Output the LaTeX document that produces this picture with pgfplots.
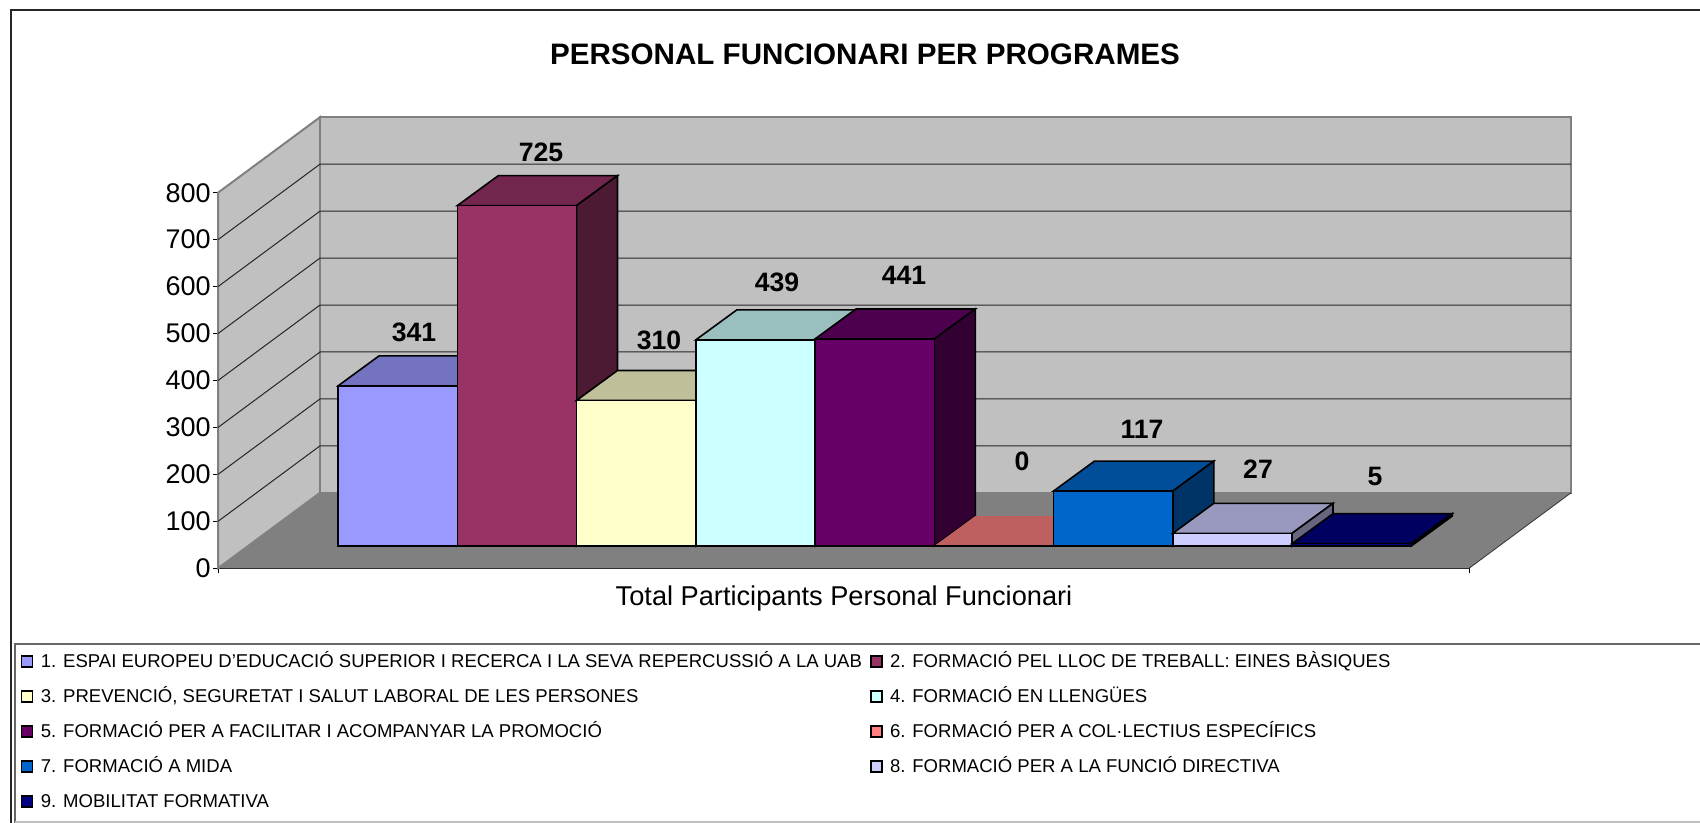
\documentclass[border=0pt]{standalone}
\usepackage{fontspec}
\setmainfont{Liberation Sans}
\usepackage{pgfplots}
\pgfplotsset{compat=1.18}
\definecolor{cA}{HTML}{9999FF}\definecolor{cAt}{HTML}{7373BF}\definecolor{cAs}{HTML}{4D4D80}
\definecolor{cB}{HTML}{993366}\definecolor{cBt}{HTML}{73264D}\definecolor{cBs}{HTML}{4D1A33}
\definecolor{cC}{HTML}{FFFFCC}\definecolor{cCt}{HTML}{BFBF99}\definecolor{cCs}{HTML}{808066}
\definecolor{cD}{HTML}{CCFFFF}\definecolor{cDt}{HTML}{99BFBF}\definecolor{cDs}{HTML}{668080}
\definecolor{cE}{HTML}{660066}\definecolor{cEt}{HTML}{4D004D}\definecolor{cEs}{HTML}{330033}
\definecolor{cF}{HTML}{FF8080}\definecolor{cFt}{HTML}{BF6060}\definecolor{cFs}{HTML}{804040}
\definecolor{cG}{HTML}{0066CC}\definecolor{cGt}{HTML}{004D99}\definecolor{cGs}{HTML}{003366}
\definecolor{cH}{HTML}{CCCCFF}\definecolor{cHt}{HTML}{9999BF}\definecolor{cHs}{HTML}{666680}
\definecolor{cI}{HTML}{000080}\definecolor{cIt}{HTML}{000060}\definecolor{cIs}{HTML}{000040}
\definecolor{wall}{HTML}{C0C0C0}\definecolor{floorc}{HTML}{808080}
\pgfplotsset{
  face/.style={forget plot,draw=black,line width=0.8pt,line join=miter,yshift=11.15pt,mark=none},
  wallp/.style={forget plot,draw=floorc,line width=1pt,line join=miter,mark=none},
  gridl/.style={forget plot,draw=black!85,line width=0.5pt,mark=none},
  sw/.style 2 args={legend image code/.code={\draw[fill=#1,draw=black,line width=0.7pt](0pt,-2.2pt) rectangle (5.5pt,3.3pt);\path[draw=none,fill=none] (0pt,0pt)--(8.2pt,0pt);}},
}
\begin{document}
\begin{tikzpicture}[x=0.5pt,y=-0.5pt]
\begin{axis}[
  at={(109pt,-284.15pt)},anchor=south west,
  scale only axis,width=625.5pt,height=187.8pt,
  xmin=218,xmax=1469,ymin=0,ymax=800,clip=false,
  axis x line*=bottom,axis y line*=left,
  axis line style={black,line width=0.6pt},
  xtick={218,1469},xticklabels={},
  ytick={0,100,200,300,400,500,600,700,800},
  tick style={black,line width=0.5pt},
  major tick length=2.5pt,
  tick align=outside,
  /pgf/number format/assume math mode=true,
  yticklabel style={font=\fontsize{13.5}{15}\selectfont,inner sep=1pt},
  legend cell align=left,
  legend columns=2,
  legend style={draw=none,fill=none,inner sep=0pt,outer sep=0pt,
    at={(axis description cs:-0.1575,-0.227)},anchor=north west,
    font=\fontsize{9.27}{11}\selectfont,
    nodes={text height=7pt,text depth=2pt,inner ysep=0pt,inner xsep=1.4pt},
    /tikz/every even column/.append style={column sep=2.7pt},
    row sep=8.5pt},
]
% walls and floor
\addplot[wallp,fill=wall] coordinates {(218,0)(320,160.8)(320,960.8)(218,800)} -- cycle;
\addplot[wallp,fill=wall] coordinates {(320,160.8)(1571,160.8)(1571,960.8)(320,960.8)} -- cycle;
\addplot[forget plot,draw=none,fill=floorc,mark=none] coordinates {(218,0)(1469,0)(1571,160.8)(320,160.8)} -- cycle;
\addplot[forget plot,draw=black!80,line width=0.4pt,mark=none] coordinates {(1469,0)(1571,160.8)};
% gridlines on the side and back walls
\addplot[gridl] coordinates {(218,100)(320,260.8)(1571,260.8)};
\addplot[gridl] coordinates {(218,200)(320,360.8)(1571,360.8)};
\addplot[gridl] coordinates {(218,300)(320,460.8)(1571,460.8)};
\addplot[gridl] coordinates {(218,400)(320,560.8)(1571,560.8)};
\addplot[gridl] coordinates {(218,500)(320,660.8)(1571,660.8)};
\addplot[gridl] coordinates {(218,600)(320,760.8)(1571,760.8)};
\addplot[gridl] coordinates {(218,700)(320,860.8)(1571,860.8)};
% 1: 341
\addplot[face,fill=cAt] coordinates {(338,341)(457.3,341)(498.3,404.9)(379,404.9)} -- cycle;
\addplot[face,fill=cAs] coordinates {(457.3,0)(498.3,63.9)(498.3,404.9)(457.3,341)} -- cycle;
\addplot[face,fill=cA] coordinates {(338,0)(457.3,0)(457.3,341)(338,341)} -- cycle;
% 2: 725
\addplot[face,fill=cBt] coordinates {(457.3,725)(576.5,725)(617.5,788.9)(498.3,788.9)} -- cycle;
\addplot[face,fill=cBs] coordinates {(576.5,0)(617.5,63.9)(617.5,788.9)(576.5,725)} -- cycle;
\addplot[face,fill=cB] coordinates {(457.3,0)(576.5,0)(576.5,725)(457.3,725)} -- cycle;
% 3: 310
\addplot[face,fill=cCt] coordinates {(576.5,310)(695.8,310)(736.8,373.9)(617.5,373.9)} -- cycle;
\addplot[face,fill=cCs] coordinates {(695.8,0)(736.8,63.9)(736.8,373.9)(695.8,310)} -- cycle;
\addplot[face,fill=cC] coordinates {(576.5,0)(695.8,0)(695.8,310)(576.5,310)} -- cycle;
% 4: 439
\addplot[face,fill=cDt] coordinates {(695.8,439)(815,439)(856,502.9)(736.8,502.9)} -- cycle;
\addplot[face,fill=cDs] coordinates {(815,0)(856,63.9)(856,502.9)(815,439)} -- cycle;
\addplot[face,fill=cD] coordinates {(695.8,0)(815,0)(815,439)(695.8,439)} -- cycle;
% 5: 441
\addplot[face,fill=cEt] coordinates {(815,441)(934.3,441)(975.3,504.9)(856,504.9)} -- cycle;
\addplot[face,fill=cEs] coordinates {(934.3,0)(975.3,63.9)(975.3,504.9)(934.3,441)} -- cycle;
\addplot[face,fill=cE] coordinates {(815,0)(934.3,0)(934.3,441)(815,441)} -- cycle;
% 6: 0
\addplot[face,draw=none,fill=cFt] coordinates {(934.3,0)(1053.5,0)(1094.5,63.9)(975.3,63.9)} -- cycle;
\addplot[face] coordinates {(934.3,0)(1053.5,0)};
% 7: 117
\addplot[face,fill=cGt] coordinates {(1053.5,117)(1172.8,117)(1213.8,180.9)(1094.5,180.9)} -- cycle;
\addplot[face,fill=cGs] coordinates {(1172.8,0)(1213.8,63.9)(1213.8,180.9)(1172.8,117)} -- cycle;
\addplot[face,fill=cG] coordinates {(1053.5,0)(1172.8,0)(1172.8,117)(1053.5,117)} -- cycle;
% 8: 27
\addplot[face,fill=cHt] coordinates {(1172.8,27)(1292,27)(1333,90.9)(1213.8,90.9)} -- cycle;
\addplot[face,fill=cHs] coordinates {(1292,0)(1333,63.9)(1333,90.9)(1292,27)} -- cycle;
\addplot[face,fill=cH] coordinates {(1172.8,0)(1292,0)(1292,27)(1172.8,27)} -- cycle;
% 9: 5
\addplot[face,fill=cIt] coordinates {(1292,5)(1411.3,5)(1452.3,68.9)(1333,68.9)} -- cycle;
\addplot[face,fill=cIs] coordinates {(1411.3,0)(1452.3,63.9)(1452.3,68.9)(1411.3,5)} -- cycle;
\addplot[face,fill=cI] coordinates {(1292,0)(1411.3,0)(1411.3,5)(1292,5)} -- cycle;
% legend
\addlegendimage{sw={cA}{}}\addlegendentry{1. ESPAI EUROPEU D'EDUCACIÓ SUPERIOR I RECERCA I LA SEVA REPERCUSSIÓ A LA UAB}
\addlegendimage{sw={cB}{}}\addlegendentry{2. FORMACIÓ PEL LLOC DE TREBALL: EINES BÀSIQUES}
\addlegendimage{sw={cC}{}}\addlegendentry{3. PREVENCIÓ, SEGURETAT I SALUT LABORAL DE LES PERSONES}
\addlegendimage{sw={cD}{}}\addlegendentry{4. FORMACIÓ EN LLENGÜES}
\addlegendimage{sw={cE}{}}\addlegendentry{5. FORMACIÓ PER A FACILITAR I ACOMPANYAR LA PROMOCIÓ}
\addlegendimage{sw={cF}{}}\addlegendentry{6. FORMACIÓ PER A COL·LECTIUS ESPECÍFICS}
\addlegendimage{sw={cG}{}}\addlegendentry{7. FORMACIÓ A MIDA}
\addlegendimage{sw={cH}{}}\addlegendentry{8. FORMACIÓ PER A LA FUNCIÓ DIRECTIVA}
\addlegendimage{sw={cI}{}}\addlegendentry{9. MOBILITAT FORMATIVA}
\end{axis}
% text in picture pixels
\tikzset{val/.style={font=\fontsize{13.3}{15}\selectfont\bfseries,inner sep=0pt}}
\node[val] at (414,332) {341};
\node[val] at (541,152) {725};
\node[val] at (659,340) {310};
\node[val] at (777,282) {439};
\node[val] at (904,275) {441};
\node[val] at (1022,461) {0};
\node[val] at (1142,429) {117};
\node[val] at (1258,469) {27};
\node[val] at (1375,476) {5};
\node[font=\fontsize{14.8}{17}\selectfont\bfseries,inner sep=0pt] at (865,54) {PERSONAL FUNCIONARI PER PROGRAMES};
\node[font=\fontsize{13.6}{15}\selectfont,inner sep=0pt] at (844,598) {Total Participants Personal Funcionari};
% chart and legend frames
\draw[black!85,line width=1pt] (1700,10)--(11,10)--(11,823);
\draw[black!60,line width=1pt] (1700,644)--(15,644)--(15,823);
\draw[black!25,line width=1pt] (15,822)--(1700,822);
\pgfresetboundingbox
\path[use as bounding box] (0,0) rectangle (1700,823);
\end{tikzpicture}
\end{document}
